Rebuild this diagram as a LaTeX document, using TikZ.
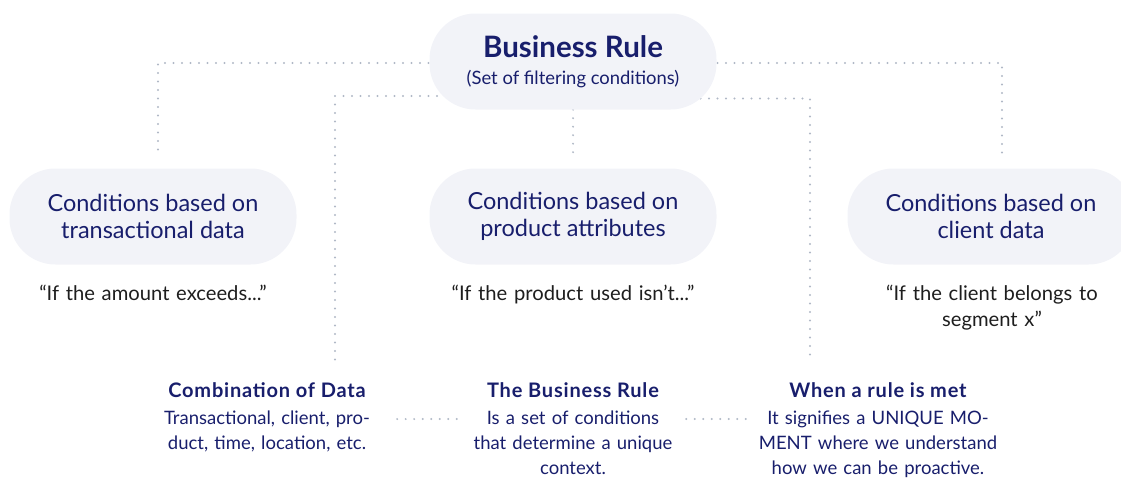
\documentclass[tikz,border=0pt]{standalone}
\usepackage{fontspec}
\setmainfont{Lato}
\usetikzlibrary{positioning,backgrounds}

\definecolor{navy}{RGB}{24,30,108}
\definecolor{pillfill}{RGB}{242,243,248}
\definecolor{dotgray}{RGB}{176,184,198}
\definecolor{quotegray}{RGB}{30,30,30}

\tikzset{
  pillbox/.style={fill=pillfill, rounded corners=46pt, minimum width=287pt,
    minimum height=96pt, align=center, text=navy,
    font=\fontsize{23.5}{27}\selectfont},
  quotetxt/.style={align=center, text=quotegray, text width=300pt,
    anchor=base, inner sep=0pt, font=\fontsize{20.2}{26}\selectfont},
  headtxt/.style={text=navy, anchor=base, inner sep=0pt,
    font=\bfseries\fontsize{20}{22}\selectfont\addfontfeature{LetterSpace=4}},
  bodytxt/.style={text=navy, align=center, text width=260pt, anchor=base,
    inner sep=0pt, font=\fontsize{18.5}{25.2}\selectfont},
  dotline/.style={dotgray, line width=2.1pt, line cap=round,
    dash pattern=on 0pt off 8.5pt},
}

\begin{document}
\begin{tikzpicture}[x=1pt, y=-1pt]
  \useasboundingbox (0,0) rectangle (1121,479);
  \clip (0,0) rectangle (1121,479);

  % top rule
  \node[pillbox] (rule) at (573,61.5)
    {{\bfseries\fontsize{29.5}{29}\selectfont Business Rule}\\
     {\fontsize{18.4}{20}\selectfont (Set of filtering conditions)}};

  % condition groups
  \node[pillbox] (trans) at (153,216.5) {Conditions based on\\transactional data};
  \node[pillbox] (prod) at (573,216.5) {Conditions based on\\product attributes};
  \node[pillbox] (cli) at (991,216.5) {Conditions based on\\client data};

  \node[quotetxt] (transq) at (153,300) {“If the amount exceeds...”};
  \node[quotetxt] (prodq) at (573,300) {“If the product used isn’t...”};
  \node[quotetxt] (cliq) at (992,300) {“If the client belongs to\\segment x”};

  % bottom notes
  \node[headtxt] (combhead) at (267,397.5) {Combination of Data};
  \node[bodytxt] (combbody) at (267,424)
    {Transactional, client, pro-\\duct, time, location, etc.};
  \node[headtxt] (bizhead) at (573,397.5) {The Business Rule};
  \node[bodytxt] (bizbody) at (573,424)
    {Is a set of conditions\\that determine a unique\\context.};
  \node[headtxt] (methead) at (878,397.5) {When a rule is met};
  \node[bodytxt] (metbody) at (878,424)
    {It signifies a UNIQUE MO-\\MENT where we understand\\how we can be proactive.};

  % dotted connectors
  \begin{scope}[on background layer]
    \draw[dotline, shorten >=13pt] ([yshift=-1.5pt]rule.center) -| ([xshift=5pt]trans.north);
    \draw[dotline, shorten >=13pt] ([yshift=-1.5pt]rule.center) -| ([xshift=11pt]cli.north);
    \draw[dotline, shorten >=16pt] (rule.south) -- (prod.north);
    \draw[dotline, shorten >=20pt] ([yshift=-34.5pt]rule.center) -| ([xshift=68pt]combhead.north);
    \draw[dotline, shorten >=20pt] ([yshift=-37pt]rule.center) -| ([xshift=-68pt]methead.north);
    \draw[dotline] ([yshift=5pt]combbody.base east) -- ([xshift=17pt, yshift=5pt]bizbody.base west);
    \draw[dotline] ([xshift=-17pt, yshift=5pt]bizbody.base east) -- ([yshift=5pt]metbody.base west);
  \end{scope}
\end{tikzpicture}
\end{document}
